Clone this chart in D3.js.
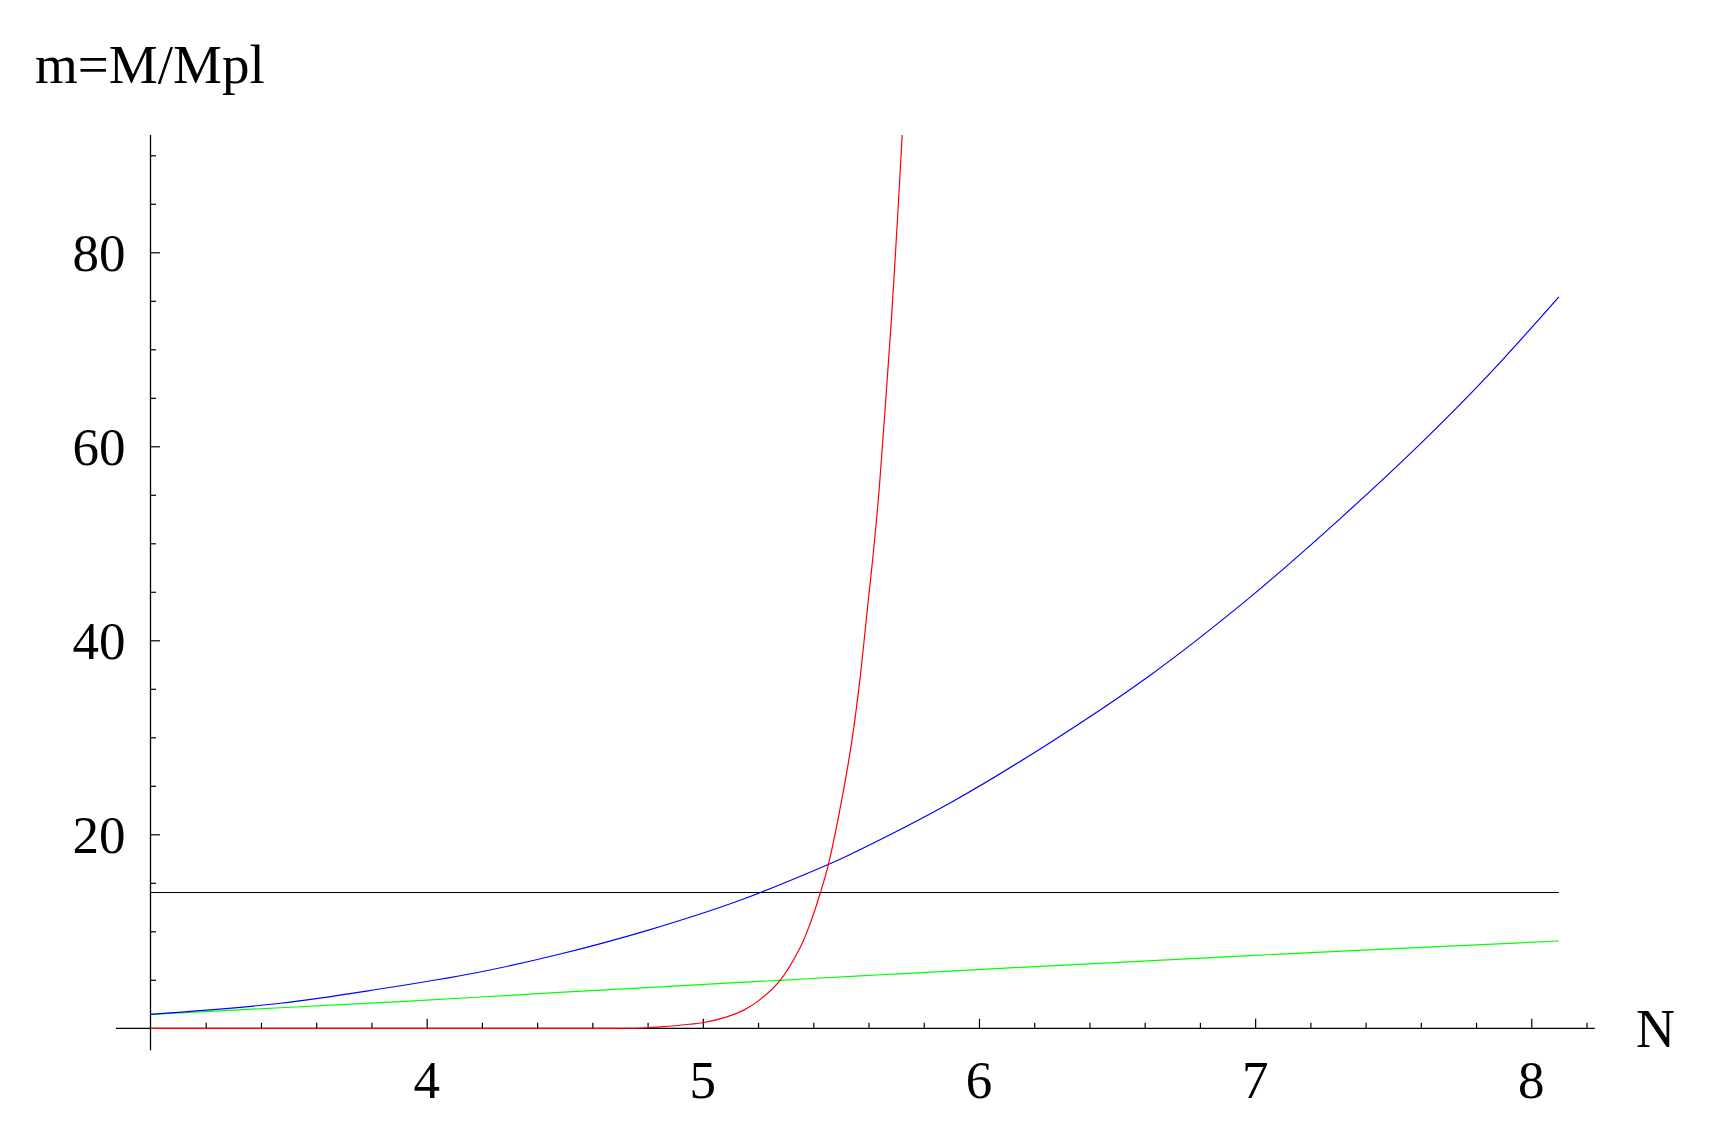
<!DOCTYPE html>
<html>
<head>
<meta charset="utf-8">
<script src="https://cdn.jsdelivr.net/npm/d3@7"></script>
<style>
  html, body { margin: 0; padding: 0; background: #fff; }
  svg { display: block; }
  text { font-family: "Liberation Serif", "Times New Roman", serif; fill: #000; }
</style>
</head>
<body>
<svg id="chart" width="1725" height="1130"></svg>
<script>
// ---- data ----
const xMajorTicks = [4, 5, 6, 7, 8];
const xMinorTicks = [3.2,3.4,3.6,3.8,4.2,4.4,4.6,4.8,5.2,5.4,5.6,5.8,6.2,6.4,6.6,6.8,7.2,7.4,7.6,7.8,8.2];
const yMajorTicks = [20, 40, 60, 80];
const yMinorTicks = [5,10,15,25,30,35,45,50,55,65,70,75,85,90];

const blueN = [3.0, 3.47, 3.83, 4.18, 4.48, 4.8, 5.13, 5.45, 5.53, 5.9, 6.26, 6.62, 6.98, 7.31, 7.6, 7.84, 8.1];
const blueM = [1.44, 2.58, 4.05, 5.73, 7.63, 10.1, 13.15, 16.84, 17.87, 23.3, 29.5, 36.4, 44.4, 52.6, 60.3, 67.2, 75.4];

const greenN = [3.0, 3.47, 3.83, 4.18, 4.48, 4.99, 5.28, 5.57, 5.71, 6.4, 6.98, 7.39, 8.1];
const greenM = [1.44, 2.12, 2.64, 3.2, 3.7, 4.5, 4.95, 5.4, 5.62, 6.65, 7.5, 8.05, 9.0];

const redN = [3.0, 4.70, 4.78, 4.86, 4.95, 5.0, 5.09, 5.15, 5.2, 5.28, 5.352, 5.39, 5.426, 5.454, 5.496, 5.539, 5.569, 5.595, 5.617, 5.639, 5.660, 5.682, 5.704, 5.722];
const redM = [0, 0, 0.03, 0.17, 0.42, 0.57, 1.2, 1.9, 2.8, 4.95, 8.3, 10.9, 14.0, 16.8, 22.5, 29.5, 36.0, 43.0, 48.9, 55.7, 63.8, 72.7, 83.0, 92.1];

const blackN = [3.0, 8.1];
const blackM = [14.0, 14.0];

const yLabel = "m=M/Mpl";
const xLabel = "N";

// ---- layout ----
const svg = d3.select("#chart");
const x = d3.scaleLinear().domain([3, 8]).range([150.5, 1531.3]);
const y = d3.scaleLinear().domain([0, 80]).range([1028.3, 252.3]);

const xMin = 2.875, xMax = 8.23;
const yMin = -2.25, yMax = 92.1;

// axes lines
svg.append("line")
  .attr("x1", x(xMin)).attr("x2", x(xMax))
  .attr("y1", y(0)).attr("y2", y(0))
  .attr("stroke", "#000").attr("stroke-width", 1.3);
svg.append("line")
  .attr("x1", x(3)).attr("x2", x(3))
  .attr("y1", y(yMin)).attr("y2", y(yMax))
  .attr("stroke", "#000").attr("stroke-width", 1.3);

// x ticks (pointing up)
function xTicks(vals, size) {
  const g = svg.append("g").attr("transform", `translate(0,${y(0)})`)
    .call(d3.axisTop(x).tickValues(vals).tickSize(size).tickSizeOuter(0).tickFormat(""));
  g.select(".domain").remove();
  g.selectAll("line").attr("stroke", "#000").attr("stroke-width", 1.2);
}
xTicks(xMajorTicks, 9.5);
xTicks(xMinorTicks, 5.5);

// y ticks (pointing right)
function yTicks(vals, size) {
  const g = svg.append("g").attr("transform", `translate(${x(3)},0)`)
    .call(d3.axisRight(y).tickValues(vals).tickSize(size).tickSizeOuter(0).tickFormat(""));
  g.select(".domain").remove();
  g.selectAll("line").attr("stroke", "#000").attr("stroke-width", 1.2);
}
yTicks(yMajorTicks, 9.5);
yTicks(yMinorTicks, 5.5);

// tick labels
svg.append("g").selectAll("text").data(xMajorTicks).join("text")
  .attr("x", d => x(d)).attr("y", y(0) + 70)
  .attr("text-anchor", "middle")
  .attr("font-size", 53)
  .text(d => d);

svg.append("g").selectAll("text").data(yMajorTicks).join("text")
  .attr("x", x(3) - 25).attr("y", d => y(d) + 18.5)
  .attr("text-anchor", "end")
  .attr("font-size", 53)
  .text(d => d);

// axis labels
svg.append("text").attr("x", 35).attr("y", 83)
  .attr("font-size", 55).text(yLabel);
svg.append("text").attr("x", 1636).attr("y", 1046.5)
  .attr("font-size", 54).text(xLabel);

// clip
svg.append("clipPath").attr("id", "plotclip")
  .append("rect")
  .attr("x", x(xMin)).attr("y", y(yMax))
  .attr("width", x(xMax) - x(xMin)).attr("height", y(yMin) - y(yMax));

const smooth = d3.line().x(d => x(d[0])).y(d => y(d[1])).curve(d3.curveCatmullRom.alpha(0.5));
const straight = d3.line().x(d => x(d[0])).y(d => y(d[1]));
const plot = svg.append("g").attr("clip-path", "url(#plotclip)");

function series(ns, ms, color, gen) {
  plot.append("path")
    .datum(ns.map((n, i) => [n, ms[i]]))
    .attr("d", gen)
    .attr("fill", "none")
    .attr("stroke", color)
    .attr("stroke-width", 1.2);
}
series(blackN, blackM, "#000000", straight);
series(greenN, greenM, "#00ff00", smooth);
series(blueN, blueM, "#0000ff", smooth);
series(redN, redM, "#ff0000", smooth);
</script>
</body>
</html>
